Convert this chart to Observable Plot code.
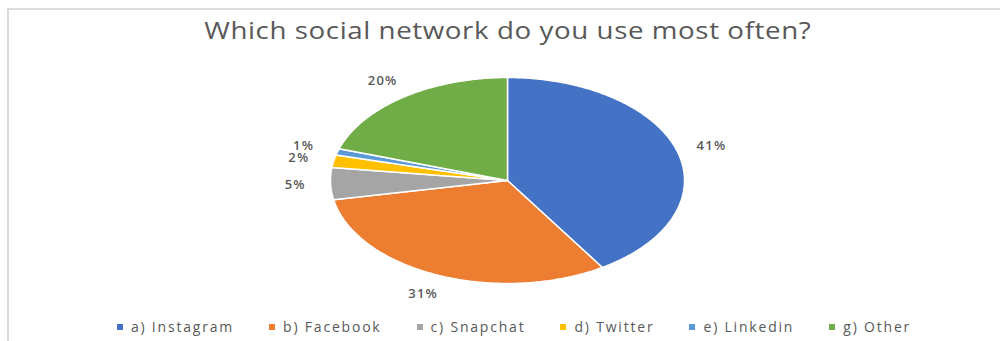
<!DOCTYPE html>
<html>
<head>
<meta charset="utf-8">
<script src="https://cdn.jsdelivr.net/npm/d3@7"></script>
<script src="https://cdn.jsdelivr.net/npm/@observablehq/plot@0.6"></script>
<style>
  html, body { margin: 0; padding: 0; background: #fff; }
  #wrap { position: relative; width: 1000px; height: 341px; overflow: hidden; font-family: "Open Sans", sans-serif; }
  #frame { position: absolute; left: 7px; top: 8px; width: 1010px; height: 350px; border-left: 2px solid #dcdcdc; border-top: 2px solid #dcdcdc; box-sizing: border-box; }
  #title { position: absolute; left: 8px; top: 0; width: 1000px; height: 60px; text-align: center; line-height: 60px; font-size: 24px; color: #595959; letter-spacing: 0.5px; }
  #title span { display: inline-block; transform: scaleX(1.155); transform-origin: center; }
  #chart { position: absolute; left: 0; top: 60px; }
  #chart svg text { letter-spacing: 1.2px; }
  #legend { position: absolute; left: 14px; top: 317px; width: 1000px; display: flex; justify-content: center; gap: 35px; font-size: 14px; color: #595959; letter-spacing: 1.8px; line-height: 20px; }
  .item { display: flex; align-items: center; gap: 8px; white-space: nowrap; }
  .sw { width: 6px; height: 6px; display: inline-block; }
</style>
</head>
<body>
<div id="wrap">
  <div id="frame"></div>
  <div id="title"><span>Which social network do you use most often?</span></div>
  <div id="chart"></div>
  <div id="legend"></div>
</div>
<script>
const categories = ["a) Instagram", "b) Facebook", "c) Snapchat", "d) Twitter", "e) Linkedin", "g) Other"];
const values = [41, 31, 5, 2, 1, 20];
const colors = ["#4472C4", "#ED7D31", "#A5A5A5", "#FFC000", "#5B9BD5", "#70AD47"];
const labels = values.map(v => v + "%");

const arcs = d3.pie().sort(null).startAngle(0).endAngle(2 * Math.PI)(values);

// polygon outlines of each slice in unit-circle data space
const slicePoints = [];
arcs.forEach((a, i) => {
  const name = categories[i];
  slicePoints.push({name, x: 0, y: 0});
  const n = Math.max(4, Math.ceil((a.endAngle - a.startAngle) / 0.01));
  for (let k = 0; k <= n; k++) {
    const t = a.startAngle + (a.endAngle - a.startAngle) * k / n;
    slicePoints.push({name, x: Math.sin(t), y: Math.cos(t)});
  }
  slicePoints.push({name, x: 0, y: 0});
});

const labelData = arcs.map((a, i) => {
  const m = (a.startAngle + a.endAngle) / 2;
  return {text: labels[i], x: 1.2 * Math.sin(m), y: 1.2 * Math.cos(m)};
});

const plot = Plot.plot({
  width: 1000,
  height: 245,
  marginLeft: 330,
  marginRight: 316,
  marginTop: 17,
  marginBottom: 22,
  x: {domain: [-1, 1], axis: null},
  y: {domain: [-1, 1], axis: null},
  color: {domain: categories, range: colors},
  style: {fontFamily: "Open Sans, sans-serif", background: "transparent", overflow: "visible"},
  marks: [
    Plot.line(slicePoints, {x: "x", y: "y", z: "name", fill: "name", stroke: "white", strokeWidth: 1.5, curve: "linear"}),
    Plot.text(labelData, {x: "x", y: "y", text: "text", fill: "#595959", fontSize: 13, fontWeight: 600, textAnchor: "middle"})
  ]
});
document.getElementById("chart").appendChild(plot);

const color = plot.scale("color");
const legend = d3.select("#legend");
categories.forEach((c, i) => {
  const it = legend.append("div").attr("class", "item");
  it.append("span").attr("class", "sw").style("background", color.range[i]);
  it.append("span").text(c);
});
</script>
</body>
</html>
